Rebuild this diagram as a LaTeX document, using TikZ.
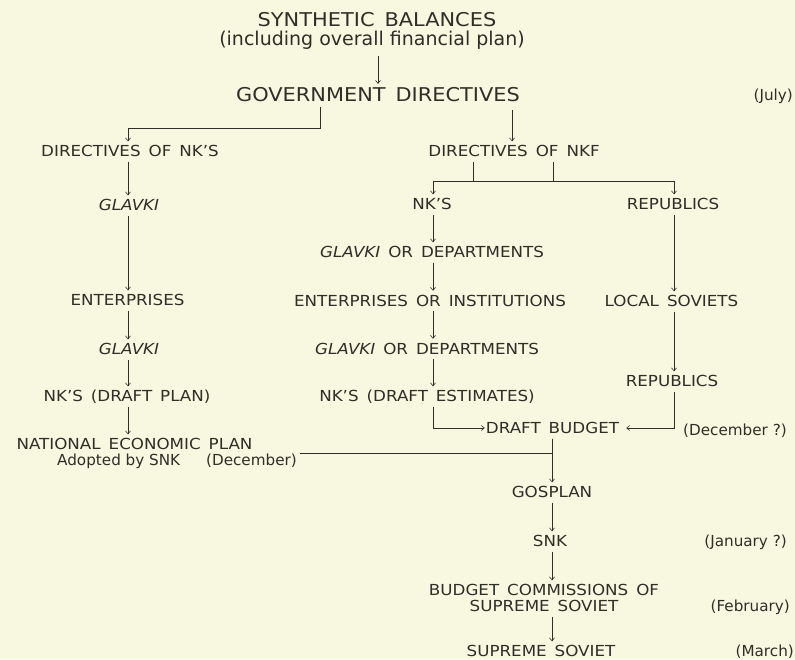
\documentclass[tikz,border=0pt]{standalone}
\usepackage{fontspec}
\setmainfont{DejaVu Sans}
\newfontfamily\capsfont[Ligatures=TeX, FakeStretch=1.1, WordSpace=1.5]{DejaVu Sans}
\usetikzlibrary{arrows.meta,calc}
\definecolor{paper}{HTML}{F8F7DF}
\definecolor{ink}{HTML}{2E2E2A}
\begin{document}
\begin{tikzpicture}[x=1pt,y=-1pt,
  lab/.style={inner sep=0pt, text height=11pt, text depth=0pt,
    font=\capsfont\fontsize{15.2}{15.2}\selectfont, text=ink},
  note/.style={lab, font=\fontsize{15.2}{15.2}\selectfont},
  big/.style={inner sep=0pt, text height=13.8pt, text depth=0pt,
    font=\capsfont\fontsize{19}{19}\selectfont, text=ink},
  bignote/.style={big, font=\fontsize{19}{19}\selectfont},
  ln/.style={draw=ink, line width=0.6pt, shorten <=5pt},
  arr/.style={ln, -{Straight Barb[length=3pt,width=5pt]}, shorten >=4pt},
]
\fill[paper] (0,0) rectangle (795,659);
\useasboundingbox (0,0) rectangle (795,659);

% column positions of the vertical connectors
\coordinate (cL) at (128,0);
\coordinate (cM) at (433,0);
\coordinate (cR) at (674,0);
\coordinate (cB) at (552,0);

% heading
\node[big] (syn) at (377,20) {SYNTHETIC BALANCES};
\node[bignote] (synsub) at (372,38.5) {(including overall financial plan)};
\node[big] (gov) at (378,95) {GOVERNMENT DIRECTIVES};
\node[note, anchor=east] (july) at (793,95) {(July)};

% left branch: economic plan
\node[lab] (dnk) at (130,151) {DIRECTIVES OF NK’S};
\node[lab] (gl1) at (129,205) {\itshape GLAVKI};
\node[lab] (ent1) at (127.5,300) {ENTERPRISES};
\node[lab] (gl2) at (129,349) {\itshape GLAVKI};
\node[lab] (nkdp) at (127,396) {NK’S (DRAFT PLAN)};
\node[lab] (nep) at (134.5,444) {NATIONAL ECONOMIC PLAN};
\node[note, anchor=west] (adopt) at (57,460) {Adopted by SNK};
\node[note, anchor=east] (dec1) at (297,460) {(December)};

% middle branch: finance
\node[lab] (dnkf) at (514,151) {DIRECTIVES OF NKF};
\node[lab] (nks) at (432,204) {NK’S};
\node[lab] (gd1) at (432,252) {\textit{GLAVKI} OR DEPARTMENTS};
\node[lab] (eoi) at (430,300.5) {ENTERPRISES OR INSTITUTIONS};
\node[lab] (gd2) at (427,348.5) {\textit{GLAVKI} OR DEPARTMENTS};
\node[lab] (nkde) at (427,396) {NK’S (DRAFT ESTIMATES)};

% right branch: republics
\node[lab] (rep1) at (673,204) {REPUBLICS};
\node[lab] (loc) at (671.5,301) {LOCAL SOVIETS};
\node[lab] (rep2) at (672,381) {REPUBLICS};

% budget path
\node[lab] (db) at (552.5,428) {DRAFT BUDGET};
\node[note, anchor=east] (dec2) at (787,430) {(December ?)};
\node[lab] (gos) at (552,492) {GOSPLAN};
\node[lab] (snk) at (550,541) {SNK};
\node[note, anchor=east] (jan) at (787,541) {(January ?)};
\node[lab] (bc) at (544,590) {BUDGET COMMISSIONS OF};
\node[lab] (bc2) at (544,606) {SUPREME SOVIET};
\node[note, anchor=east] (feb) at (790,606) {(February)};
\node[lab] (ss) at (541,651) {SUPREME SOVIET};
\node[note, anchor=east] (mar) at (794,651) {(March)};

% junction points
\coordinate (g1) at (320,128);
\coordinate (g2) at (512,0);
\coordinate (k1) at (473,181);
\coordinate (k2) at (553,181);
\coordinate (jn) at (552,453);

% connectors
\draw[arr, shorten <=10pt] (synsub.south -| gov.north) -- (gov.north);
\draw[arr] (gov.south -| g1) -- (g1) -| (dnk.north -| cL);
\draw[arr, shorten <=8pt] (gov.south -| g2) -- (dnkf.north -| g2);

\draw[ln] (k1 |- dnkf.south) -- (k1);
\draw[ln] (k2 |- dnkf.south) -- (k2);
\draw[ln, shorten <=0pt] (k1) -- (k2);
\draw[arr, shorten <=0pt] (k1) -| (nks.north -| cM);
\draw[arr, shorten <=0pt] (k2) -| (rep1.north -| cR);

\draw[arr] (dnk.south -| cL) -- (gl1.north -| cL);
\draw[arr] (gl1.south -| cL) -- (ent1.north -| cL);
\draw[arr] (ent1.south -| cL) -- (gl2.north -| cL);
\draw[arr] (gl2.south -| cL) -- (nkdp.north -| cL);
\draw[arr] (nkdp.south -| cL) -- (nep.north -| cL);

\draw[arr] (nks.south -| cM) -- (gd1.north -| cM);
\draw[arr] (gd1.south -| cM) -- (eoi.north -| cM);
\draw[arr] (eoi.south -| cM) -- (gd2.north -| cM);
\draw[arr] (gd2.south -| cM) -- (nkde.north -| cM);
\draw[arr, shorten >=1pt] (nkde.south -| cM) |- (db.west);

\draw[arr] (rep1.south -| cR) -- (loc.north -| cR);
\draw[arr] (loc.south -| cR) -- (rep2.north -| cR);
\draw[arr, shorten >=7pt] (rep2.south -| cR) |- (db.east);

\draw[ln, shorten <=3pt] (dec1.east |- jn) -- (jn);
\draw[arr] (db.south -| cB) -- (gos.north -| cB);
\draw[arr] (gos.south -| cB) -- (snk.north -| cB);
\draw[arr] (snk.south -| cB) -- (bc.north -| cB);
\draw[arr] (bc2.south -| cB) -- (ss.north -| cB);
\end{tikzpicture}
\end{document}
